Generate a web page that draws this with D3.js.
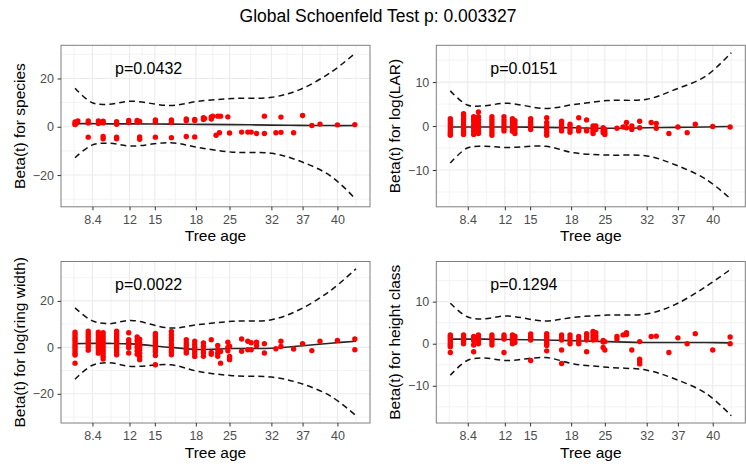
<!DOCTYPE html>
<html>
<head>
<meta charset="utf-8">
<script src="https://cdnjs.cloudflare.com/ajax/libs/d3/7.8.5/d3.min.js"></script>
<style>
    body { margin: 0; background: #fff; }
</style>
</head>
<body>
<div id="chart-holder"></div>
<script>
// x axis is transformed time; ticks are placed on that scale, labelled with tree age
var timeTicks = [6.2, 19.4, 28.4, 43.0, 55.0, 69.9, 81.0, 93.4];
var timeLabels = ['8.4', '12', '15', '18', '25', '32', '37', '40'];

var covariates = ['species', 'log(LAR)', 'log(ring width)', 'height class'];
var pLabels = ['p=0.0432', 'p=0.0151', 'p=0.0022', 'p=0.1294'];
var yTickSets = [[-20, 0, 20], [-10, 0, 10], [-20, 0, 20], [-10, 0, 10]];

// times at which the smoothed beta(t) and its band were read
var fitTimes = [0, 6, 12, 20, 34, 44, 56, 70, 80, 91, 100];

var speciesFit  = [1.3, 1.3, 1.2, 1.2, 1.1, 1.0, 0.9, 0.7, 0.6, 0.5, 0.5];
var speciesLow  = [-12.8, -7.6, -6.8, -8.0, -6.6, -8.6, -10.5, -11.0, -14.2, -20.4, -30.1];
var speciesHigh = [16.0, 10.0, 9.3, 10.6, 8.8, 10.6, 11.7, 12.2, 15.4, 22.5, 30.7];

var larFit  = [-0.2, -0.2, -0.2, -0.2, -0.3, -0.4, -0.5, -0.4, -0.3, -0.2, -0.1];
var larLow  = [-8.4, -5.0, -4.6, -4.9, -4.6, -6.1, -6.6, -6.8, -8.8, -12.1, -16.7];
var larHigh = [8.0, 4.8, 4.6, 5.2, 4.0, 4.9, 5.8, 6.1, 8.3, 11.4, 16.7];

var ringFit  = [1.6, 1.7, 1.7, 1.5, 0.0, -0.9, -0.5, -0.4, 0.6, 1.8, 2.6];
var ringLow  = [-13.7, -7.8, -6.6, -8.2, -7.5, -10.4, -12.2, -12.8, -15.4, -21.0, -29.4];
var ringHigh = [17.0, 11.5, 10.2, 11.6, 8.3, 9.8, 11.2, 11.9, 16.3, 24.5, 33.8];

var heightFit  = [1.1, 1.1, 1.1, 1.0, 0.9, 0.7, 0.5, 0.3, 0.3, 0.3, 0.2];
var heightLow  = [-7.5, -4.0, -3.4, -4.0, -3.3, -4.8, -5.6, -6.3, -8.4, -11.8, -17.1];
var heightHigh = [9.6, 6.4, 5.9, 6.6, 5.4, 6.3, 6.8, 7.1, 9.3, 13.6, 17.8];

// scaled Schoenfeld residuals: [time, [values at that time]]
var speciesPts = [
    [0, [1.2, 2.0, 0.9]], [0.5, [1.5]], [1, [2.4]],
    [4.7, [1.6, 2.4, -4.3]], [8.3, [1.4, 2.4]], [10, [1.6, 2.3, -4.0, -5.0]],
    [14.8, [1.0, 2.1, -4.3, -5.0]], [19.1, [1.8, 2.6]], [22.1, [2.0, 2.6]],
    [23, [2.2, -4.2, -5.2]], [28.6, [2.0, 2.8, -4.3]], [34.3, [1.8, 2.8, -4.5]],
    [39.6, [2.5, 3.2, -4.0]], [42.6, [2.6, 3.0, -4.2]], [45.7, [3.0, 3.8]],
    [46.1, [3.4]], [48.5, [3.2, 4.1]], [49, [4.4]], [50.2, [-3.5]], [50.8, [4.4]],
    [51.4, [-2.5]], [51.8, [4.4]], [54.4, [4.1]], [55, [-2.6]], [59.3, [-2.2]],
    [61.5, [-2.2]], [62.7, [-2.2]], [64.6, [-2.8]], [67.4, [4.4, -2.8]],
    [71.5, [-2.5]], [73.3, [4.0, -2.3]], [77.8, [-2.5]], [81, [4.7]],
    [84.3, [0.5]], [87.2, [1.1]], [93.4, [0.8]], [99.6, [0.9]]
];

var larPts = [
    [0, [1.7, 1.2, 0.6, 0.1, -0.4, -0.9, -1.4, -1.8, -2.1]],
    [4.7, [2.8, 2.3, 1.6, 1.0, 0.3, -0.3, -0.9, -1.4, -1.9]],
    [8.3, [2.1, 1.5, 0.9, 0.2, -0.5, -1.2, -1.9]],
    [10, [3.2, 2.1, 1.4, 0.7, 0.0, -0.7, -1.2, -1.7]],
    [14.8, [2.1, 1.5, 0.9, 0.3, -0.3, -0.9, -1.5, -2.1]],
    [19.1, [2.1, 1.4, 0.7, 0.0, -0.6, -1.1]],
    [22.1, [1.7, 1.0, 0.3, -0.5, -1.2]],
    [23, [1.2, 0.5, -0.2, -0.9, -1.7]],
    [28.6, [1.7, 1.0, 0.4, -0.2, -0.8]],
    [34.3, [1.9, 0.8, 0.0, -0.7, -1.4, -2.1]],
    [39.6, [1.1, 0.5, -0.1, -0.6, -1.1]],
    [42.6, [0.4, -0.2, -0.8, -1.4]],
    [45.7, [1.9, -0.4, -0.8, -1.1]],
    [48.5, [1.4, -0.8, -1.1]],
    [50.8, [0.0, -0.6, -1.2, -1.7]],
    [51.8, [0.0, -0.8]],
    [54.4, [-0.4, -1.0, -1.5]],
    [55, [-0.8, -1.4, -1.9]],
    [59.3, [-0.5]], [61.5, [-0.2]], [62.7, [0.8, -0.4]], [64.6, [0.0, -0.8]],
    [67.4, [1.1, -0.4]], [71.5, [0.8]], [73.3, [0.6, -0.5]], [77.8, [-1.7]],
    [81, [-0.2]], [84.3, [-1.5]], [87.2, [0.4]], [93.4, [-0.1]], [99.6, [-0.2]]
];

var ringPts = [
    [0, [6.5, 5.5, 4.5, 3.5, 2.5, 1.5, 0.5, -0.5, -1.5, -2.5, -3.3, -6.8]],
    [4.7, [7.0, 6.0, 5.0, 4.0, 3.0, 2.0, 1.0, 0.0, -1.2]],
    [8.3, [6.5, 5.5, 4.5, 3.5, 2.5, 1.5, 0.5, -0.5, -1.5, -2.5]],
    [10, [6.3, 5.0, 3.8, 2.5, 1.2, 0.0, -1.2, -2.5, -3.8, -5.0]],
    [14.8, [7.0, 6.0, 5.0, 4.0, 3.0, 2.0, 1.0, 0.0, -1.0, -2.0, -3.2]],
    [19.1, [6.3, 3.3, 2.2, 1.0, -0.2, -2.4]],
    [22.1, [4.5, 3.0, 1.5, 0.0, -1.5, -3.0]],
    [23, [3.5, 2.0, 0.5, -1.0, -2.5, -4.0, -5.3]],
    [28.6, [6.0, 5.0, 4.0, 3.0, 2.0, 1.0, 0.0, -1.0, -2.0, -3.5, -7.5]],
    [34.3, [6.8, 5.5, 4.2, 3.0, 1.5, 0.3, -1.0, -2.0, -3.2]],
    [39.6, [3.3, 2.0, 0.8, -0.5, -1.5, -2.4]],
    [42.6, [2.6, 1.2, 0.0, -1.5, -2.6, -3.9]],
    [45.7, [1.9, 0.5, -1.0, -2.3, -3.8]],
    [48.5, [3.3, -2.2, -3.0]],
    [50.8, [0.8, -1.0, -2.5, -3.8]],
    [51.8, [-6.8, -1.8]],
    [54.4, [2.2, 0.0, -1.5]],
    [55, [0.5, -3.9, -4.8, -5.3]],
    [59.3, [3.6, -1.7]], [61.5, [2.6, -1.0]], [62.7, [2.0, -1.0]], [64.6, [2.2, 0.7]],
    [67.4, [1.6, -2.4]], [71.5, [-0.6]], [73.3, [2.6, 0.4]], [77.8, [-0.7]],
    [81, [1.6]], [84.3, [-1.4]], [87.2, [2.6]], [93.4, [3.0]], [99.6, [3.6, -1.0]]
];

var heightPts = [
    [0, [2.1, 1.7, 1.3, 0.9, 0.4, 0.0, -0.4, -0.7, -2.1]],
    [4.7, [2.1, 1.6, 1.1, 0.6, 0.0]],
    [8.3, [1.7, 1.2, 0.7, -0.3, -1.9]],
    [10, [2.1, 1.6, 1.0, 0.5, 0.0]],
    [14.8, [2.1, 1.5, 1.0, 0.4, -0.3]],
    [19.1, [2.1, 1.6, 1.1, -2.1]],
    [22.1, [2.1, 1.4, 0.7, 0.0]],
    [23, [1.8, 1.1, 0.3]],
    [28.6, [2.3, 1.8, 1.3, 0.9, -4.0]],
    [34.3, [2.4, 1.8, 1.2, 0.6, 0.0, -0.4, -1.7]],
    [39.6, [2.1, 1.5, 0.9, -1.5, -4.7]],
    [42.6, [2.1, 1.4, 0.7, 0.0]],
    [45.7, [1.7, 1.0, 0.4, 0.0]],
    [48.5, [2.4, 1.6, 0.9, -1.9]],
    [50.8, [2.9, 2.3, 1.6, 0.9]],
    [51.8, [2.6, 1.8, 1.0]],
    [54.4, [0.8, 0.4, -0.9]],
    [55, [0.5, -1.5]],
    [59.3, [1.7, 1.1]], [61.5, [2.1]], [62.7, [2.6, 2.2]], [64.6, [-1.5]],
    [67.4, [0.5, -3.7, -4.3, -4.8]], [71.5, [1.7]], [73.3, [1.8]], [77.8, [-2.1]],
    [81, [1.4]], [84.3, [0.0]], [87.2, [2.4]], [93.4, [-1.5]], [99.6, [1.6, 0.0]]
];

function buildChart(containerId) {
    // size globals
    var width = 746;
    var height = 466;
    var panelW = 309;
    var panelH = 161.5;
    var cols = [61, 436.3];
    var rows = [45.3, 261.5];

    var panels = [
        { fit: speciesFit, low: speciesLow, high: speciesHigh, pts: speciesPts },
        { fit: larFit, low: larLow, high: larHigh, pts: larPts },
        { fit: ringFit, low: ringLow, high: ringHigh, pts: ringPts },
        { fit: heightFit, low: heightLow, high: heightHigh, pts: heightPts }
    ];

    var svg = d3
        .select(containerId)
        .append('svg')
        .attr('width', width)
        .attr('height', height)
        .style('font-family', '"Liberation Sans", Arial, sans-serif');

    // title
    svg
        .append('text')
        .attr('x', 378)
        .attr('y', 22)
        .attr('text-anchor', 'middle')
        .style('font-size', '17.5px')
        .attr('fill', '#000')
        .text('Global Schoenfeld Test p: 0.003327');

    // ggplot style 5% expansion
    function expand(ext) {
        var pad = (ext[1] - ext[0]) * 0.05;
        return [ext[0] - pad, ext[1] + pad];
    }

    // ggplot style minor breaks: midpoints, extended one step past the ends
    function minorBreaks(b, dom) {
        var bd = b[1] - b[0];
        var all = b.slice();
        if (dom[0] < b[0]) all.unshift(b[0] - bd);
        if (dom[1] > b[b.length - 1]) all.push(b[b.length - 1] + bd);
        var m = [];
        for (var k = 0; k < all.length - 1; k++) {
            m.push((all[k] + all[k + 1]) / 2);
        }
        return m.filter(function(v) { return v >= dom[0] && v <= dom[1]; });
    }

    function fmt(v) {
        return v < 0 ? '\u2212' + Math.abs(v) : String(v);
    }

    panels.forEach(function(p, i) {
        var left = cols[i % 2];
        var top = rows[Math.floor(i / 2)];
        var yTicks = yTickSets[i];

        var g = svg
            .append('g')
            .attr('transform', 'translate(' + left + ',' + top + ')');

        // scales
        var x = d3
            .scaleLinear()
            .domain(expand(d3.extent(fitTimes)))
            .range([0, panelW]);

        var y = d3
            .scaleLinear()
            .domain(expand(d3.extent(p.low.concat(p.high))))
            .range([panelH, 0]);

        // grid
        var xMinor = minorBreaks(timeTicks, x.domain());
        var yMinor = minorBreaks(yTicks, y.domain());

        g.selectAll('.vminor')
            .data(xMinor)
            .enter()
            .append('line')
            .attr('x1', function(d) { return x(d); })
            .attr('x2', function(d) { return x(d); })
            .attr('y1', 0)
            .attr('y2', panelH)
            .attr('stroke', '#EBEBEB')
            .attr('stroke-width', 0.6);

        g.selectAll('.hminor')
            .data(yMinor)
            .enter()
            .append('line')
            .attr('x1', 0)
            .attr('x2', panelW)
            .attr('y1', function(d) { return y(d); })
            .attr('y2', function(d) { return y(d); })
            .attr('stroke', '#EBEBEB')
            .attr('stroke-width', 0.6);

        g.selectAll('.vmajor')
            .data(timeTicks)
            .enter()
            .append('line')
            .attr('x1', function(d) { return x(d); })
            .attr('x2', function(d) { return x(d); })
            .attr('y1', 0)
            .attr('y2', panelH)
            .attr('stroke', '#EBEBEB')
            .attr('stroke-width', 1.1);

        g.selectAll('.hmajor')
            .data(yTicks)
            .enter()
            .append('line')
            .attr('x1', 0)
            .attr('x2', panelW)
            .attr('y1', function(d) { return y(d); })
            .attr('y2', function(d) { return y(d); })
            .attr('stroke', '#EBEBEB')
            .attr('stroke-width', 1.1);

        // fit and confidence band
        function lineOf(vals) {
            return d3
                .line()
                .x(function(d, k) { return x(fitTimes[k]); })
                .y(function(d) { return y(d); })
                .curve(d3.curveCatmullRom)(vals);
        }

        g.append('path')
            .attr('d', lineOf(p.fit))
            .attr('fill', 'none')
            .attr('stroke', '#262626')
            .attr('stroke-width', 1.6);

        [p.low, p.high].forEach(function(band) {
            g.append('path')
                .attr('d', lineOf(band))
                .attr('fill', 'none')
                .attr('stroke', '#111')
                .attr('stroke-width', 1.5)
                .attr('stroke-dasharray', '6,4');
        });

        // residual points
        var flat = [];
        p.pts.forEach(function(col) {
            col[1].forEach(function(v) { flat.push([col[0], v]); });
        });

        g.selectAll('.dot')
            .data(flat)
            .enter()
            .append('circle')
            .attr('class', 'dot')
            .attr('cx', function(d) { return x(d[0]); })
            .attr('cy', function(d) { return y(d[1]); })
            .attr('r', 2.7)
            .attr('fill', '#FF0000');

        // panel border
        g.append('rect')
            .attr('width', panelW)
            .attr('height', panelH)
            .attr('fill', 'none')
            .attr('stroke', '#7F7F7F')
            .attr('stroke-width', 1);

        // axes
        var xAxis = d3
            .axisBottom(x)
            .tickValues(timeTicks)
            .tickFormat(function(d, k) { return timeLabels[k]; })
            .tickSize(3.5)
            .tickPadding(4.5)
            .tickSizeOuter(0);

        var xg = g
            .append('g')
            .attr('transform', 'translate(0,' + panelH + ')')
            .call(xAxis);

        var yAxis = d3
            .axisLeft(y)
            .tickValues(yTicks)
            .tickFormat(fmt)
            .tickSize(3.5)
            .tickPadding(3.5)
            .tickSizeOuter(0);

        var yg = g.append('g').call(yAxis);

        [xg, yg].forEach(function(a) {
            a.select('.domain').remove();
            a.selectAll('line').attr('stroke', '#333');
            a.selectAll('text')
                .attr('fill', '#4D4D4D')
                .style('font-size', '12.5px')
                .style('font-family', '"Liberation Sans", Arial, sans-serif');
        });

        // axis labels
        g.append('text')
            .attr('x', panelW / 2)
            .attr('y', panelH + 34.5)
            .attr('text-anchor', 'middle')
            .style('font-size', '15.5px')
            .attr('fill', '#000')
            .text('Tree age');

        g.append('text')
            .attr('transform', 'translate(-42,' + panelH / 2 + ') rotate(-90)')
            .attr('text-anchor', 'middle')
            .attr('dominant-baseline', 'central')
            .style('font-size', '15.5px')
            .attr('fill', '#000')
            .text('Beta(t) for ' + covariates[i]);

        // p value
        g.append('text')
            .attr('x', 54)
            .attr('y', 28.8)
            .style('font-size', '16px')
            .attr('fill', '#000')
            .text(pLabels[i]);
    });
}

buildChart('#chart-holder');
</script>
</body>
</html>
